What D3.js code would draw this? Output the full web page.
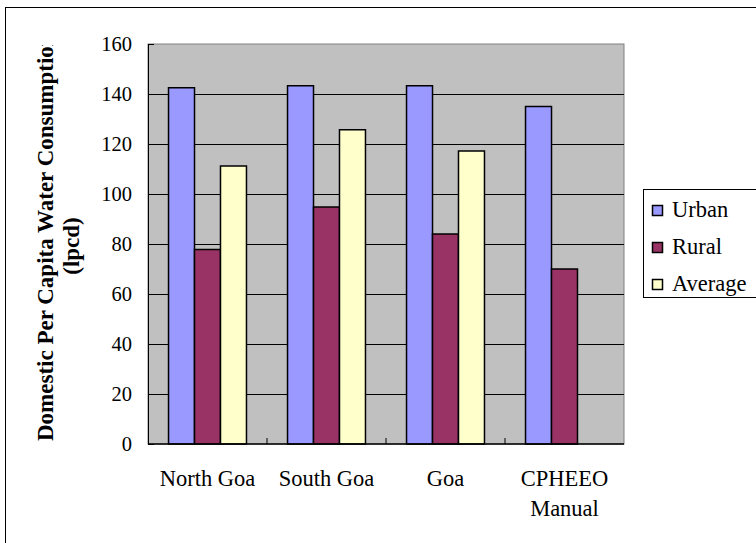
<!DOCTYPE html>
<html>
<head>
<meta charset="utf-8">
<script src="https://cdn.jsdelivr.net/npm/d3@7"></script>
<style>
  html, body { margin: 0; padding: 0; background: #ffffff; }
  svg { display: block; }
  text { font-family: "Liberation Serif", "Times New Roman", serif; fill: #000; }
</style>
</head>
<body>
<svg id="chart" width="756" height="543"></svg>
<script>
// Domestic per capita water consumption (lpcd) by region
const categories = ["North Goa", "South Goa", "Goa", "CPHEEO Manual"];
const categoryLines = [["North Goa"], ["South Goa"], ["Goa"], ["CPHEEO", "Manual"]];
const seriesNames = ["Urban", "Rural", "Average"];
const urban = [142.5, 143.3, 143.3, 135];
const rural = [77.8, 94.8, 84, 70];
const average = [111.2, 125.7, 117.2, null];
const yTicks = [0, 20, 40, 60, 80, 100, 120, 140, 160];
const seriesColors = ["#9999FF", "#993366", "#FFFFCC"];
const yTitle = ["Domestic Per Capita Water Consumption", "(lpcd)"];

const seriesValues = [urban, rural, average];

const svg = d3.select("#chart");
const plot = { left: 148, right: 624, top: 44, bottom: 444 };

// outer frame
svg.append("rect")
  .attr("x", 5.5).attr("y", 7.5)
  .attr("width", 800).attr("height", 600)
  .attr("fill", "#fff").attr("stroke", "#000").attr("stroke-width", 1);

const x0 = d3.scaleBand().domain(categories).range([plot.left, plot.right]).padding(0);
const x1 = d3.scaleBand().domain(seriesNames).range([0, x0.bandwidth()])
  .paddingInner(0).paddingOuter(0.79);
const y = d3.scaleLinear().domain([0, 160]).range([plot.bottom, plot.top]);

// plot background
svg.append("rect")
  .attr("x", plot.left).attr("y", plot.top)
  .attr("width", plot.right - plot.left).attr("height", plot.bottom - plot.top)
  .attr("fill", "#C0C0C0").attr("stroke", "#808080").attr("stroke-width", 1);

// gridlines
svg.append("g").selectAll("line")
  .data(yTicks.filter(t => t > 0 && t < 160))
  .join("line")
  .attr("x1", plot.left).attr("x2", plot.right)
  .attr("y1", d => Math.round(y(d)) + 0.5).attr("y2", d => Math.round(y(d)) + 0.5)
  .attr("stroke", "#000").attr("stroke-width", 1);

// bars
const groups = svg.append("g").selectAll("g")
  .data(categories)
  .join("g")
  .attr("transform", d => `translate(${x0(d)},0)`);

groups.selectAll("rect")
  .data((d, i) => seriesNames.map((s, k) => ({ s, v: seriesValues[k][i], c: seriesColors[k] }))
    .filter(e => e.v != null))
  .join("rect")
  .attr("x", d => x1(d.s))
  .attr("width", x1.bandwidth())
  .attr("y", d => y(d.v))
  .attr("height", d => y(0) - y(d.v))
  .attr("fill", d => d.c)
  .attr("stroke", "#000")
  .attr("stroke-width", 1.5);

// y axis
const yAxis = d3.axisLeft(y).tickValues(yTicks).tickSizeInner(-6).tickSizeOuter(0).tickPadding(16);
const gy = svg.append("g").attr("transform", `translate(${plot.left},0)`).call(yAxis);
gy.select(".domain").attr("stroke", "#000");
gy.selectAll(".tick line").attr("stroke", "#000");
gy.selectAll("text").attr("font-size", 20.5).attr("font-family", "Liberation Serif");

// x axis baseline and category boundary ticks
const gx = svg.append("g");
gx.append("line")
  .attr("x1", plot.left).attr("x2", plot.right)
  .attr("y1", y(0)).attr("y2", y(0))
  .attr("stroke", "#000").attr("stroke-width", 1.5);
gx.selectAll("line.tick")
  .data(categories.slice(1))
  .join("line")
  .attr("class", "tick")
  .attr("x1", d => x0(d)).attr("x2", d => x0(d))
  .attr("y1", y(0)).attr("y2", y(0) - 6)
  .attr("stroke", "#000");

// category labels
const labels = svg.append("g").selectAll("text")
  .data(categories)
  .join("text")
  .attr("x", d => x0(d) + x0.bandwidth() / 2)
  .attr("y", 486)
  .attr("text-anchor", "middle")
  .attr("font-size", 22.5);
labels.selectAll("tspan")
  .data((d, i) => categoryLines[i])
  .join("tspan")
  .attr("x", function () { return this.parentNode.getAttribute("x"); })
  .attr("dy", (d, i) => i === 0 ? 0 : 30)
  .text(d => d);

// y axis title, clipped at the top of the chart area
svg.append("clipPath").attr("id", "titleClip")
  .append("rect").attr("x", 0).attr("y", 45).attr("width", 120).attr("height", 500);
const title = svg.append("g").attr("clip-path", "url(#titleClip)");
title.append("text")
  .attr("transform", "translate(53,441) rotate(-90)")
  .attr("text-anchor", "start")
  .attr("font-size", 23).attr("font-weight", "bold")
  .text(yTitle[0]);
title.append("text")
  .attr("transform", "translate(79,246) rotate(-90)")
  .attr("text-anchor", "middle")
  .attr("font-size", 23).attr("font-weight", "bold")
  .text(yTitle[1]);

// legend
const legend = svg.append("g");
legend.append("rect")
  .attr("x", 643.5).attr("y", 189.5)
  .attr("width", 130).attr("height", 108)
  .attr("fill", "#fff").attr("stroke", "#000").attr("stroke-width", 1);
const items = legend.selectAll("g.item")
  .data(seriesNames)
  .join("g")
  .attr("class", "item")
  .attr("transform", (d, i) => `translate(652,${205 + i * 37})`);
items.append("rect")
  .attr("x", 0.5).attr("y", 0.5).attr("width", 10).attr("height", 10)
  .attr("fill", (d, i) => seriesColors[i])
  .attr("stroke", "#000").attr("stroke-width", 1.5);
items.append("text")
  .attr("x", 20).attr("y", 12)
  .attr("font-size", 22.5)
  .text(d => d);
</script>
</body>
</html>
